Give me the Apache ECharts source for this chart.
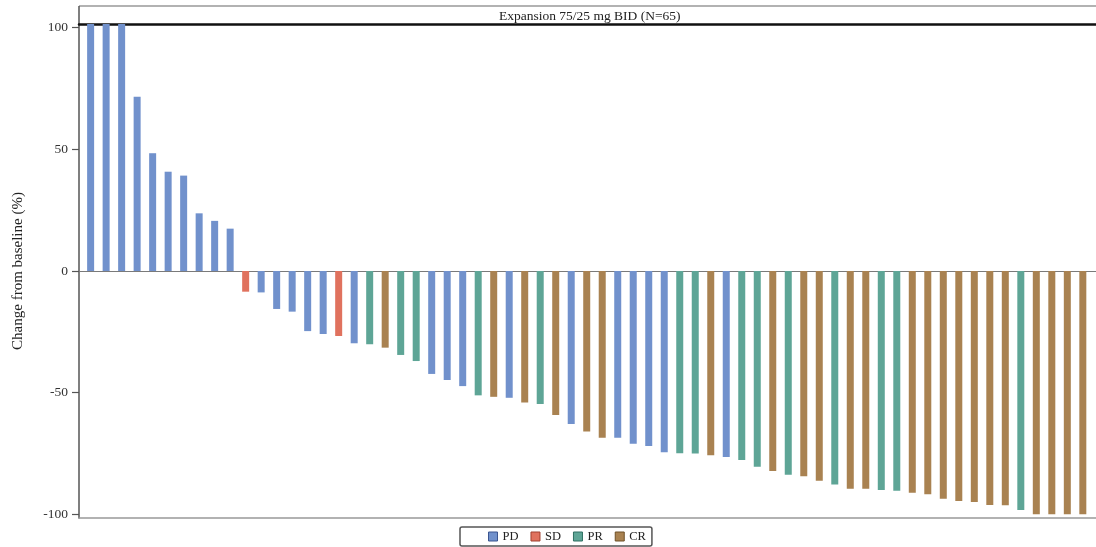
<!DOCTYPE html>
<html>
<head>
<meta charset="utf-8">
<script src="https://cdn.jsdelivr.net/npm/echarts@6/dist/echarts.min.js"></script>
<style>
  html, body { margin: 0; padding: 0; background: #fff; }
  #chart { width: 1096px; height: 547px; }
</style>
</head>
<body>
<div id="chart"></div>
<script>
// Best percent change from baseline per patient, sorted high to low
const change = [
  101.5, 101.5, 101.5, 71.6, 48.4, 40.8, 39.2, 23.7, 20.6, 17.4,
  -8.5, -8.8, -15.6, -16.7, -24.7, -25.9, -26.7, -29.7, -30.1, -31.5,
  -34.5, -37.0, -42.3, -44.8, -47.3, -51.1, -51.7, -52.1, -54.0, -54.7,
  -59.2, -62.9, -66.0, -68.5, -68.5, -71.0, -71.9, -74.5, -74.9, -75.0,
  -75.7, -76.4, -77.7, -80.4, -82.2, -83.7, -84.3, -86.2, -87.7, -89.5,
  -89.5, -90.0, -90.3, -91.1, -91.7, -93.6, -94.5, -94.9, -96.2, -96.3,
  -98.2, -100, -100, -100, -100
];

// Best overall response per patient, same order
const response = [
  'PD', 'PD', 'PD', 'PD', 'PD', 'PD', 'PD', 'PD', 'PD', 'PD',
  'SD', 'PD', 'PD', 'PD', 'PD', 'PD', 'SD', 'PD', 'PR', 'CR',
  'PR', 'PR', 'PD', 'PD', 'PD', 'PR', 'CR', 'PD', 'CR', 'PR',
  'CR', 'PD', 'CR', 'CR', 'PD', 'PD', 'PD', 'PD', 'PR', 'PR',
  'CR', 'PD', 'PR', 'PR', 'CR', 'PR', 'CR', 'CR', 'PR', 'CR',
  'CR', 'PR', 'PR', 'CR', 'CR', 'CR', 'CR', 'CR', 'CR', 'CR',
  'PR', 'CR', 'CR', 'CR', 'CR'
];

const responseTypes = ['PD', 'SD', 'PR', 'CR'];
const yTicks = [-100, -50, 0, 50, 100];

const fill = { PD: '#7191cc', SD: '#e0725e', PR: '#5ea596', CR: '#a98251' };
const edge = { PD: '#3b5590', SD: '#a04030', PR: '#2f6f62', CR: '#6e5128' };
const serif = "'Liberation Serif', 'DejaVu Serif', serif";

const series = responseTypes.map((type, k) => ({
  name: type,
  type: 'bar',
  barWidth: 7,
  barGap: '-100%',
  itemStyle: { color: fill[type] },
  data: change
    .map((v, i) => (response[i] === type ? [i + 1, v] : null))
    .filter(d => d !== null),
  markLine: k === 0 ? {
    silent: true,
    symbol: 'none',
    label: { show: false },
    lineStyle: { color: '#7a7a7a', width: 1, type: 'solid' },
    data: [{ yAxis: 0 }],
    z: 1
  } : undefined,
  z: 2
}));

const chart = echarts.init(document.getElementById('chart'), null, { renderer: 'canvas' });
chart.setOption({
  animation: false,
  backgroundColor: '#fff',
  title: {
    text: 'Expansion 75/25 mg BID (N=65)',
    left: 499,
    top: 9,
    padding: 0,
    textStyle: { fontFamily: serif, fontSize: 13.5, fontWeight: 'normal', color: '#222' }
  },
  grid: { left: 79, top: 24, width: 1026, height: 494, containLabel: false },
  xAxis: [
    {
      type: 'value', min: 0.25, max: 65.85, position: 'bottom',
      axisLine: { show: true, onZero: false, lineStyle: { color: '#999', width: 1.5 } },
      axisTick: { show: false }, axisLabel: { show: false }, splitLine: { show: false }
    },
    {
      type: 'value', min: 0.25, max: 65.85, position: 'top',
      axisLine: { show: true, onZero: false, lineStyle: { color: '#111', width: 2.5 } },
      axisTick: { show: false }, axisLabel: { show: false }, splitLine: { show: false }
    }
  ],
  yAxis: {
    type: 'value', min: -101.5, max: 101.5,
    name: 'Change from baseline (%)',
    nameLocation: 'middle',
    nameGap: 53,
    nameTextStyle: { fontFamily: serif, fontSize: 15, color: '#222' },
    axisLine: { show: true, lineStyle: { color: '#555', width: 1.5 } },
    axisTick: { show: true, length: 7, customValues: yTicks, lineStyle: { color: '#555', width: 1.2 } },
    axisLabel: { customValues: yTicks, fontFamily: serif, fontSize: 13.5, color: '#333', margin: 11 },
    splitLine: { show: false }
  },
  legend: {
    left: 460, top: 527,
    orient: 'horizontal',
    icon: 'rect',
    itemWidth: 9, itemHeight: 9, itemGap: 12,
    padding: [3, 6, 3, 28],
    borderColor: '#555', borderWidth: 1.5, borderRadius: 2,
    textStyle: { fontFamily: serif, fontSize: 12.5, color: '#222' },
    data: responseTypes.map(t => ({ name: t, itemStyle: { borderColor: edge[t], borderWidth: 1 } }))
  },
  graphic: [
    {
      type: 'line', silent: true,
      shape: { x1: 79, y1: 6, x2: 1096, y2: 6 },
      style: { stroke: '#999', lineWidth: 1.5 }
    },
    {
      type: 'line', silent: true,
      shape: { x1: 79, y1: 6, x2: 79, y2: 24 },
      style: { stroke: '#555', lineWidth: 1.5 }
    }
  ],
  series: series
});
</script>
</body>
</html>
